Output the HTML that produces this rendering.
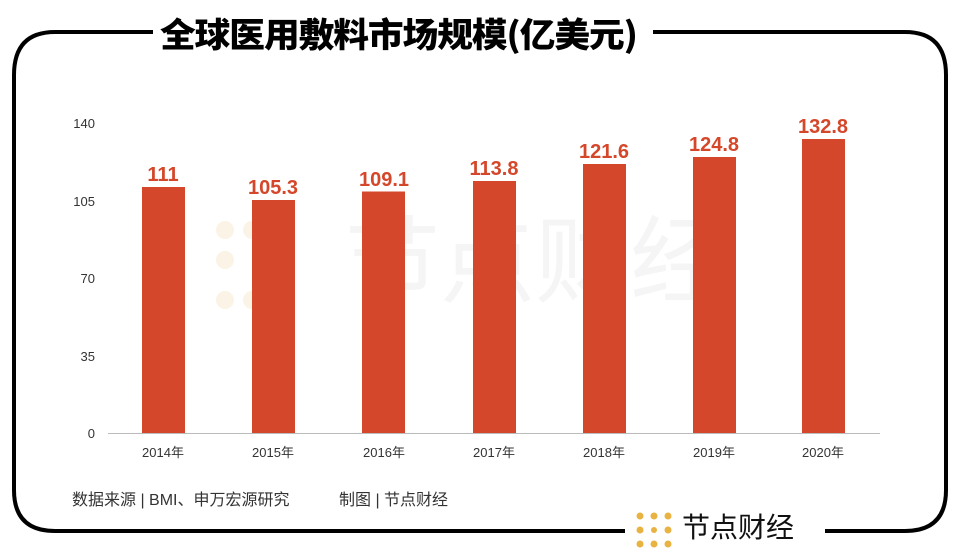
<!DOCTYPE html>
<html><head><meta charset="utf-8"><style>
body{margin:0;width:966px;height:560px;background:#fff;overflow:hidden;font-family:"Liberation Sans","Noto Sans CJK SC",sans-serif;position:relative}
.t{position:absolute;white-space:nowrap}
</style></head><body>
<svg width="966" height="560" style="position:absolute;left:0;top:0">
<path d="M153 32 H55 Q14 32 14 75 V490 Q14 531 55 531 H625 M825 531 H905 Q946 531 946 490 V75 Q946 32 905 32 H653" fill="none" stroke="#000" stroke-width="4"/>
<g fill="#fbf3e6"><circle cx="225" cy="230" r="9"/><circle cx="252" cy="230" r="9"/><circle cx="279" cy="230" r="9"/><circle cx="225" cy="260" r="9"/><circle cx="279" cy="260" r="9"/><circle cx="225" cy="300" r="9"/><circle cx="252" cy="300" r="9"/><circle cx="279" cy="300" r="9"/></g>
<text x="345" y="295" font-size="95" fill="#f5f5f5" font-family="Noto Sans CJK SC">节点财经</text>
<line x1="108" y1="433.5" x2="880" y2="433.5" stroke="#bbb" stroke-width="1"/>
<g fill="#d4472a">
<rect x="142" y="187" width="43" height="246"/>
<rect x="252" y="200" width="43" height="233"/>
<rect x="362" y="191.5" width="43" height="241.5"/>
<rect x="473" y="181" width="43" height="252"/>
<rect x="583" y="164" width="43" height="269"/>
<rect x="693" y="157" width="43" height="276"/>
<rect x="802" y="139" width="43" height="294"/>
</g>
<g fill="#d4472a" font-size="20" font-weight="bold" text-anchor="middle" font-family="Liberation Sans">
<text x="163" y="181">111</text><text x="273" y="194">105.3</text><text x="384" y="186">109.1</text><text x="494" y="175">113.8</text><text x="604" y="158">121.6</text><text x="714" y="151">124.8</text><text x="823" y="133">132.8</text>
</g>
<g font-size="13" fill="#333" text-anchor="end" font-family="Liberation Sans">
<text x="95" y="128">140</text><text x="95" y="206">105</text><text x="95" y="283">70</text><text x="95" y="361">35</text><text x="95" y="438">0</text>
</g>
<g font-size="13" fill="#333" text-anchor="middle" font-family="Liberation Sans,Noto Sans CJK SC">
<text x="163" y="457">2014年</text><text x="273" y="457">2015年</text><text x="384" y="457">2016年</text><text x="494" y="457">2017年</text><text x="604" y="457">2018年</text><text x="714" y="457">2019年</text><text x="823" y="457">2020年</text>
</g>
<g fill="#e9b343">
<circle cx="640" cy="516" r="3.5"/><circle cx="654" cy="516" r="3.5"/><circle cx="668" cy="516" r="3.5"/>
<circle cx="640" cy="530" r="3.5"/><circle cx="668" cy="530" r="3.5"/><circle cx="654" cy="530" r="3"/>
<circle cx="640" cy="544" r="3.5"/><circle cx="654" cy="544" r="3.5"/><circle cx="668" cy="544" r="3.5"/>
</g>
</svg>
<div class="t" style="left:160px;top:12px;font-size:34px;font-weight:900;letter-spacing:-1px;font-family:'Noto Sans CJK SC',sans-serif;line-height:42px;transform:scaleX(1.05);transform-origin:left top">全球医用敷料市场规模(亿美元)</div>
<div class="t" style="left:72px;top:486px;font-size:16px;color:#333">数据来源 | BMI、申万宏源研究</div>
<div class="t" style="left:339px;top:486px;font-size:16px;color:#333">制图 | 节点财经</div>
<div class="t" style="left:682px;top:510px;font-size:28px;color:#111;line-height:36px">节点财经</div>
</body></html>
